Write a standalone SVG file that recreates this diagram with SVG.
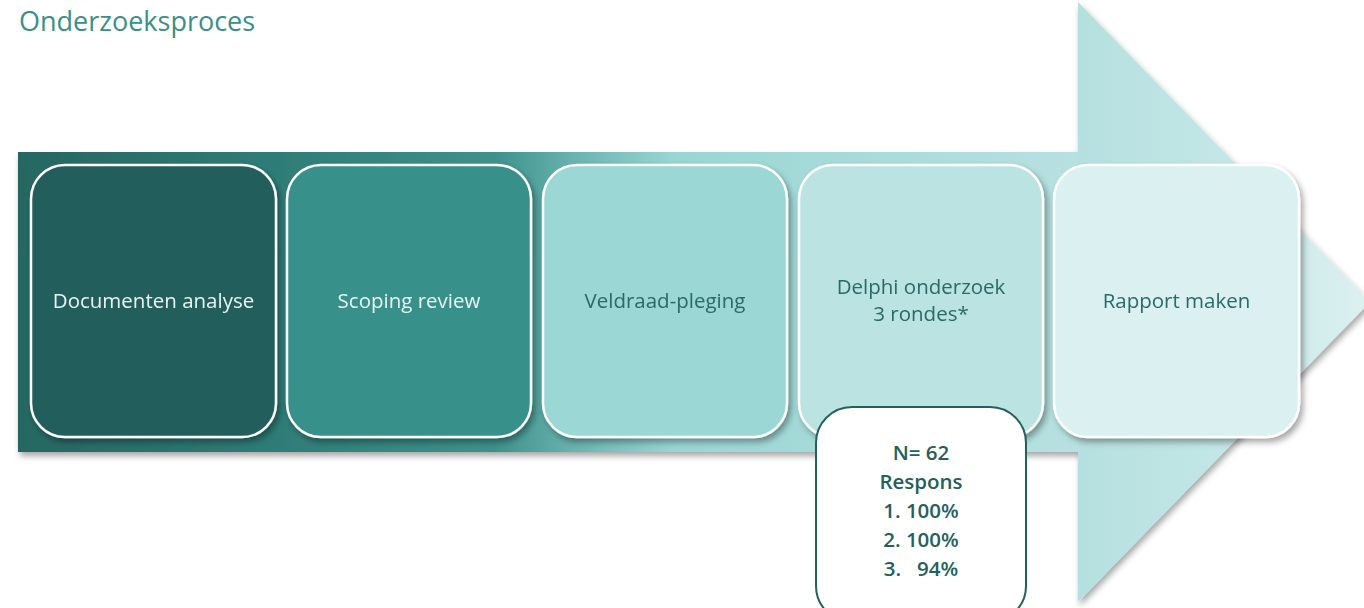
<svg xmlns="http://www.w3.org/2000/svg" width="1364" height="608" viewBox="0 0 1364 608">
<defs>
<linearGradient id="band" x1="18" y1="0" x2="1078" y2="0" gradientUnits="userSpaceOnUse">
<stop offset="0" stop-color="#276661"/>
<stop offset="0.25" stop-color="#2f7d78"/>
<stop offset="0.45" stop-color="#3e918c"/>
<stop offset="0.53" stop-color="#6cb5b2"/>
<stop offset="0.62" stop-color="#9ad6d4"/>
<stop offset="1" stop-color="#b7e1e0"/>
</linearGradient>
<linearGradient id="head" x1="1078" y1="0" x2="1364" y2="0" gradientUnits="userSpaceOnUse">
<stop offset="0" stop-color="#b5e0df"/>
<stop offset="0.5" stop-color="#c3e6e6"/>
<stop offset="1" stop-color="#dcf0f0"/>
</linearGradient>
<filter id="sh" x="-10%" y="-10%" width="130%" height="130%">
<feDropShadow dx="3" dy="4" stdDeviation="3" flood-color="#000" flood-opacity="0.35"/>
</filter>
<filter id="sh2" x="-5%" y="-5%" width="115%" height="120%">
<feDropShadow dx="2" dy="4" stdDeviation="3" flood-color="#000" flood-opacity="0.35"/>
</filter>
</defs>
<style>
.box{stroke:#ffffff;stroke-width:2.5}
.lbl{font-family:"Open Sans","Liberation Sans",sans-serif;font-size:20.5px;text-anchor:middle}
.light{fill:#e8f4f3}
.dark{fill:#2a6a66}
.nlbl{font-family:"Open Sans","Liberation Sans",sans-serif;font-size:20.5px;font-weight:600;fill:#24605c;text-anchor:middle}
.title{font-family:"Open Sans","Liberation Sans",sans-serif;font-size:27px;fill:#3a8f8a}
</style>
<text class="title" x="19" y="31">Onderzoeksproces</text>
<g id="arrow" filter="url(#sh2)">
<rect x="18" y="152" width="1061" height="300" fill="url(#band)"/>
<polygon points="1078,2 1370,302 1078,602" fill="url(#head)"/>
</g>
<g id="n1" filter="url(#sh)">
<rect class="box" x="31" y="165" width="245" height="272" rx="34" fill="#245e5b"/>
<text class="lbl light" x="153.5" y="308">Documenten analyse</text>
</g>
<g id="n2" filter="url(#sh)">
<rect class="box" x="287" y="165" width="244" height="272" rx="34" fill="#38908b"/>
<text class="lbl light" x="409" y="308">Scoping review</text>
</g>
<g id="n3" filter="url(#sh)">
<rect class="box" x="543" y="165" width="244" height="272" rx="34" fill="#9ad7d5"/>
<text class="lbl dark" x="665" y="308">Veldraad-pleging</text>
</g>
<g id="n4" filter="url(#sh)">
<rect class="box" x="799" y="165" width="244" height="272" rx="34" fill="#bae3e2"/>
<text class="lbl dark" x="921" y="294">Delphi onderzoek</text>
<text class="lbl dark" x="921" y="321">3 rondes*</text>
</g>
<g id="n5" filter="url(#sh)">
<rect class="box" x="1054" y="165" width="245" height="272" rx="34" fill="#daf0f1"/>
<text class="lbl dark" x="1176.5" y="308">Rapport maken</text>
</g>
<g id="n6">
<rect x="816" y="407" width="210" height="215" rx="36" fill="#ffffff" stroke="#24605c" stroke-width="2"/>
<text class="nlbl" x="921" y="460">N= 62</text>
<text class="nlbl" x="921" y="489">Respons</text>
<text class="nlbl" x="921" y="518">1. 100%</text>
<text class="nlbl" x="921" y="547">2. 100%</text>
<text class="nlbl" x="921" y="576" xml:space="preserve">3.   94%</text>
</g>
<g id="connectors"></g>
</svg>
